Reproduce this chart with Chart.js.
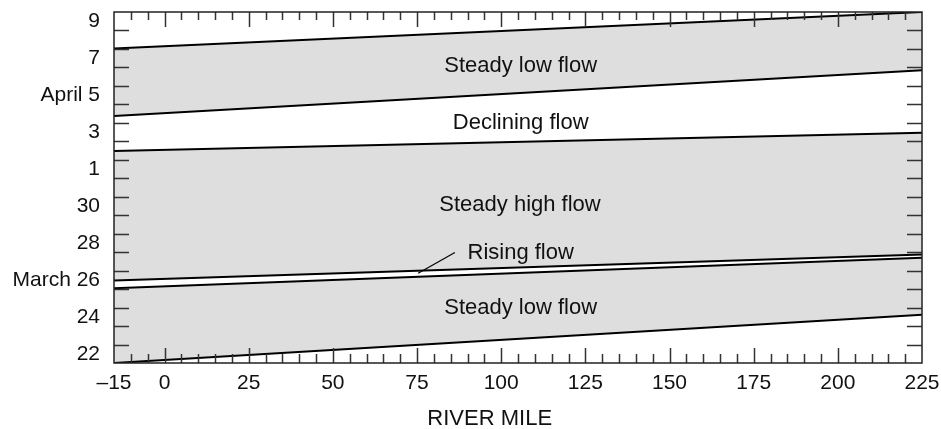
<!DOCTYPE html>
<html>
<head>
<meta charset="utf-8">
<script src="https://cdn.jsdelivr.net/npm/chart.js@4.4.1/dist/chart.umd.min.js"></script>
<style>
  html, body { margin: 0; padding: 0; background: #fff; }
  #wrap { width: 941px; height: 429px; position: relative; }
</style>
</head>
<body>
<div id="wrap"><canvas id="flowChart"></canvas></div>
<script>
// river mile at the two ends of every boundary line
const riverMiles = [-15, 225];

// boundary lines, in days after the start of March 22 (value at mile -15, value at mile 225)
const lateLowTop = [17.03, 19.0];
const lateLowBottom = [13.37, 15.85];
const highTop = [11.48, 12.46];
const highBottom = [4.47, 5.87];
const earlyLowTop = [4.05, 5.70];
const earlyLowBottom = [0.0, 2.61];

// axis ticks
const xTickValues = [-15, 0, 25, 50, 75, 100, 125, 150, 175, 200, 225];
const xTickLabels = ['\u201315', '0', '25', '50', '75', '100', '125', '150', '175', '200', '225'];
const yTickDays = [0.5, 2.5, 4.5, 6.5, 8.5, 10.5, 12.5, 14.5, 16.5, 18.5];
const yTickLabels = ['22', '24', 'March 26', '28', '30', '1', '3', 'April 5', '7', '9'];

// annotation text: [label, river mile, day]
const flowLabels = [
  ['Steady low flow', 105.8, 16.06],
  ['Declining flow', 105.8, 13.0],
  ['Steady high flow', 105.6, 8.55],
  ['Rising flow', 105.8, 5.98],
  ['Steady low flow', 105.8, 2.96],
];
const risingLeader = [[86.25, 5.98], [75.35, 4.86]];

const FONT = "'Liberation Sans', Arial, Helvetica, sans-serif";
const GRAY = '#dedede';

const toPoints = (vals) => riverMiles.map((m, i) => ({ x: m, y: vals[i] }));

const line = (vals, fill) => ({
  data: toPoints(vals),
  borderColor: '#000',
  borderWidth: 2,
  pointRadius: 0,
  tension: 0,
  fill: fill ? '+1' : false,
  backgroundColor: GRAY,
});

// tick marks, frame and annotations
const decorPlugin = {
  id: 'decor',
  afterDatasetsDraw(chart) {
    const { ctx, chartArea: a, scales: { x, y } } = chart;
    ctx.save();
    ctx.strokeStyle = '#333';
    ctx.lineWidth = 1.5;
    ctx.beginPath();
    // day ticks left & right
    for (let d = 1; d < 19; d++) {
      const py = Math.round(y.getPixelForValue(d)) + 0.5;
      ctx.moveTo(a.left, py); ctx.lineTo(a.left + 15, py);
      ctx.moveTo(a.right, py); ctx.lineTo(a.right - 15, py);
    }
    // mile ticks top & bottom
    for (let m = -10; m < 225; m += 5) {
      const px = Math.round(x.getPixelForValue(m)) + 0.5;
      const major = m % 25 === 0;
      ctx.moveTo(px, a.top); ctx.lineTo(px, a.top + (major ? 15 : 8));
      ctx.moveTo(px, a.bottom); ctx.lineTo(px, a.bottom - (major ? 15 : 9));
    }
    ctx.stroke();

    ctx.strokeStyle = '#222';
    ctx.lineWidth = 1.5;
    ctx.strokeRect(a.left, a.top, a.right - a.left, a.bottom - a.top);

    // leader for rising flow
    ctx.strokeStyle = '#000';
    ctx.lineWidth = 1.2;
    ctx.beginPath();
    ctx.moveTo(x.getPixelForValue(risingLeader[0][0]), y.getPixelForValue(risingLeader[0][1]));
    ctx.lineTo(x.getPixelForValue(risingLeader[1][0]), y.getPixelForValue(risingLeader[1][1]));
    ctx.stroke();

    ctx.fillStyle = '#111';
    ctx.font = '22px ' + FONT;
    ctx.textAlign = 'center';
    ctx.textBaseline = 'middle';
    flowLabels.forEach(([t, m, d]) => {
      ctx.fillText(t, x.getPixelForValue(m), y.getPixelForValue(d));
    });

    // axis title
    ctx.font = '22px ' + FONT;
    ctx.fillText('RIVER MILE', x.getPixelForValue(96.6), a.bottom + 56);
    ctx.restore();
  },
};

new Chart(document.getElementById('flowChart'), {
  type: 'line',
  data: {
    datasets: [
      line(lateLowTop, true),
      line(lateLowBottom, false),
      line(highTop, true),
      line(highBottom, false),
      line(earlyLowTop, true),
      line(earlyLowBottom, false),
    ],
  },
  options: {
    responsive: true,
    maintainAspectRatio: false,
    animation: false,
    layout: { padding: { left: 0, right: 19, top: 12, bottom: 0 } },
    plugins: {
      legend: { display: false },
      tooltip: { enabled: false },
      filler: { drawTime: 'beforeDatasetsDraw' },
    },
    scales: {
      x: {
        type: 'linear',
        min: -15,
        max: 225,
        border: { display: false },
        grid: { display: false, drawTicks: false },
        afterBuildTicks: (s) => { s.ticks = xTickValues.map((v) => ({ value: v })); },
        afterFit: (s) => { s.height = 66; s.paddingLeft = 0; s.paddingRight = 0; },
        ticks: {
          autoSkip: false,
          maxRotation: 0,
          padding: 8,
          color: '#111',
          font: { family: FONT, size: 21 },
          callback: (v, i) => xTickLabels[i],
        },
      },
      y: {
        type: 'linear',
        min: 0,
        max: 19,
        border: { display: false },
        grid: { display: false, drawTicks: false },
        afterBuildTicks: (s) => { s.ticks = yTickDays.map((v) => ({ value: v })); },
        afterFit: (s) => { s.width = 114; s.paddingTop = 0; s.paddingBottom = 0; },
        ticks: {
          autoSkip: false,
          padding: 14,
          color: '#111',
          font: { family: FONT, size: 21 },
          callback: (v, i) => yTickLabels[i],
        },
      },
    },
  },
  plugins: [decorPlugin],
});
</script>
</body>
</html>
